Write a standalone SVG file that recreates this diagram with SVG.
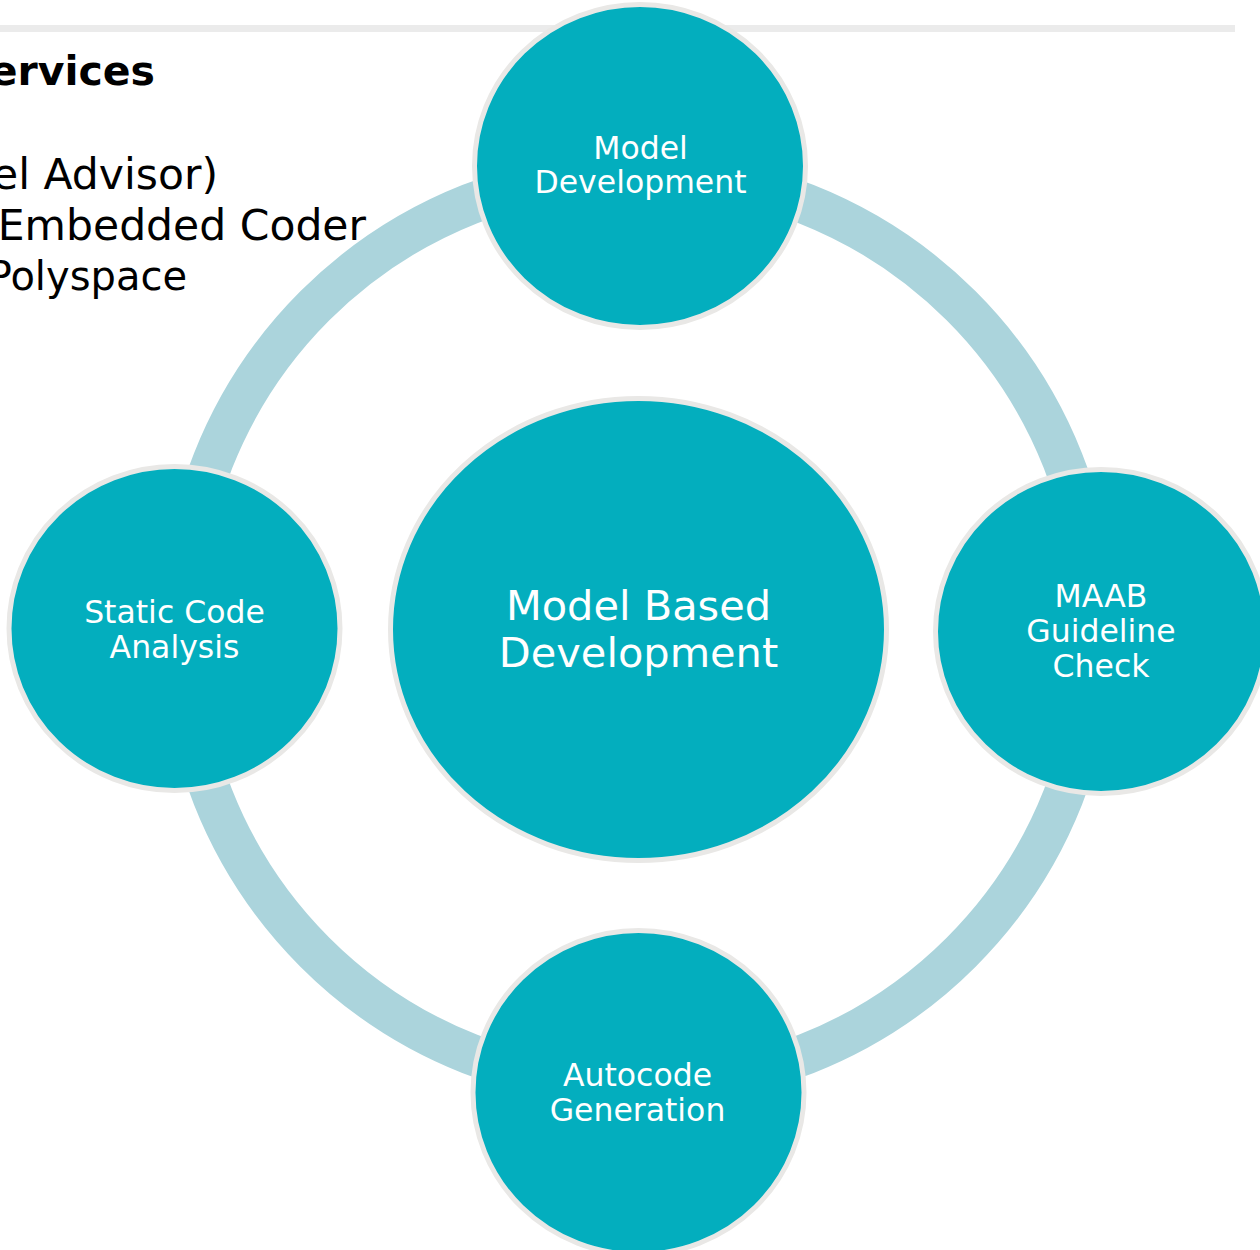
<svg xmlns="http://www.w3.org/2000/svg" width="1260" height="1250" viewBox="0 0 1260 1250">
<style>
.side{font-family:"DejaVu Sans","Liberation Sans",sans-serif;fill:#000;font-size:42.5px}
.node ellipse{fill:#03aebe;stroke:#e9e8e6;stroke-width:5}
.lbl{font-family:"DejaVu Sans","Liberation Sans",sans-serif;fill:#fff;text-anchor:middle;font-size:31.5px}
.big{font-size:41.5px}
</style>
<rect width="1260" height="1250" fill="#fff"/>
<rect x="0" y="25" width="1235" height="7" fill="#ebebeb"/>
<text class="side" x="155" y="85" text-anchor="end" style="font-weight:bold;font-size:41px">ervices</text>
<text class="side" x="218" y="189" text-anchor="end">el Advisor)</text>
<text class="side" x="366" y="240" text-anchor="end">Embedded Coder</text>
<text class="side" x="187" y="290" text-anchor="end" style="font-size:40px">Polyspace</text>
<g id="connectors">
<circle cx="638" cy="629" r="457" fill="none" stroke="#abd4dc" stroke-width="41"/>
</g>
<g id="center" class="node">
<ellipse cx="638.5" cy="629.5" rx="248" ry="231"/>
<text class="lbl big" x="638.5" y="620">Model Based</text>
<text class="lbl big" x="638.5" y="666.5">Development</text>
</g>
<g id="model-development" class="node">
<ellipse cx="640" cy="166" rx="165.5" ry="161.5"/>
<text class="lbl" x="640.5" y="159">Model</text>
<text class="lbl" x="640.5" y="193">Development</text>
</g>
<g id="maab" class="node">
<ellipse cx="1101" cy="631.5" rx="165.5" ry="162"/>
<text class="lbl" x="1101" y="606.5">MAAB</text>
<text class="lbl" x="1101" y="641.5">Guideline</text>
<text class="lbl" x="1101" y="676.5">Check</text>
</g>
<g id="autocode" class="node">
<ellipse cx="638.5" cy="1092.5" rx="165.5" ry="162"/>
<text class="lbl" x="637.5" y="1085.5">Autocode</text>
<text class="lbl" x="637.5" y="1120.5">Generation</text>
</g>
<g id="static" class="node">
<ellipse cx="174.5" cy="628.5" rx="165.5" ry="162"/>
<text class="lbl" x="174.5" y="622.5">Static Code</text>
<text class="lbl" x="174.5" y="658">Analysis</text>
</g>
</svg>
